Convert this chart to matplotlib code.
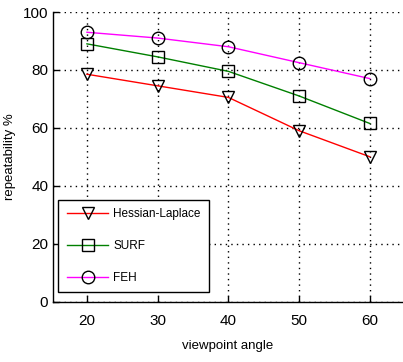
import matplotlib.pyplot as plt

# data
angles = [20, 30, 40, 50, 60]
hessian_laplace = [78.5, 74.5, 70.5, 59, 50]
surf = [89, 84.5, 79.5, 71, 61.5]
feh = [93, 91, 88, 82.5, 77]

plt.rcParams['font.family'] = ['Liberation Sans', 'DejaVu Sans']
plt.rcParams['font.size'] = 11

fig = plt.figure(figsize=(4.03, 3.62), dpi=100)
ax = fig.add_axes([53 / 403, 1 - 301.5 / 362, (403 - 53) / 403, (301.5 - 12) / 362])

mk = dict(markerfacecolor='none', markeredgecolor='black', markersize=9, markeredgewidth=1)
ax.plot(angles, hessian_laplace, color='#ff0000', marker='v', lw=1, label='Hessian-Laplace', **mk)
ax.plot(angles, surf, color='#008000', marker='s', lw=1, label='SURF', **mk)
ax.plot(angles, feh, color='#ff00ff', marker='o', lw=1, label='FEH', **mk)

ax.set_xlim(15.2, 64.7)
ax.set_ylim(0, 100)
ax.set_xticks(angles)
ax.set_yticks([0, 20, 40, 60, 80, 100])
ax.grid(True, color='black', linestyle=(0, (1, 3)), linewidth=1)
ax.tick_params(direction='in', length=4, width=1, color='black')
ax.tick_params(axis='x', pad=9)
for s in ['top', 'right']:
    ax.spines[s].set_visible(False)
for s in ['left', 'bottom']:
    ax.spines[s].set_linewidth(1)

ax.set_xlabel('viewpoint angle', fontsize=9.5, labelpad=9)
ax.set_ylabel('repeatability %', fontsize=9.5, labelpad=5)

leg = ax.legend(loc='lower left', bbox_to_anchor=(0.005, 0.02), fancybox=False,
                edgecolor='black', framealpha=1, handlelength=3.55, handletextpad=0.4,
                borderpad=0.7, labelspacing=1.7, fontsize=8.5, borderaxespad=0.3)
leg.get_frame().set_linewidth(1)

fig.savefig('out.png', dpi=100)
